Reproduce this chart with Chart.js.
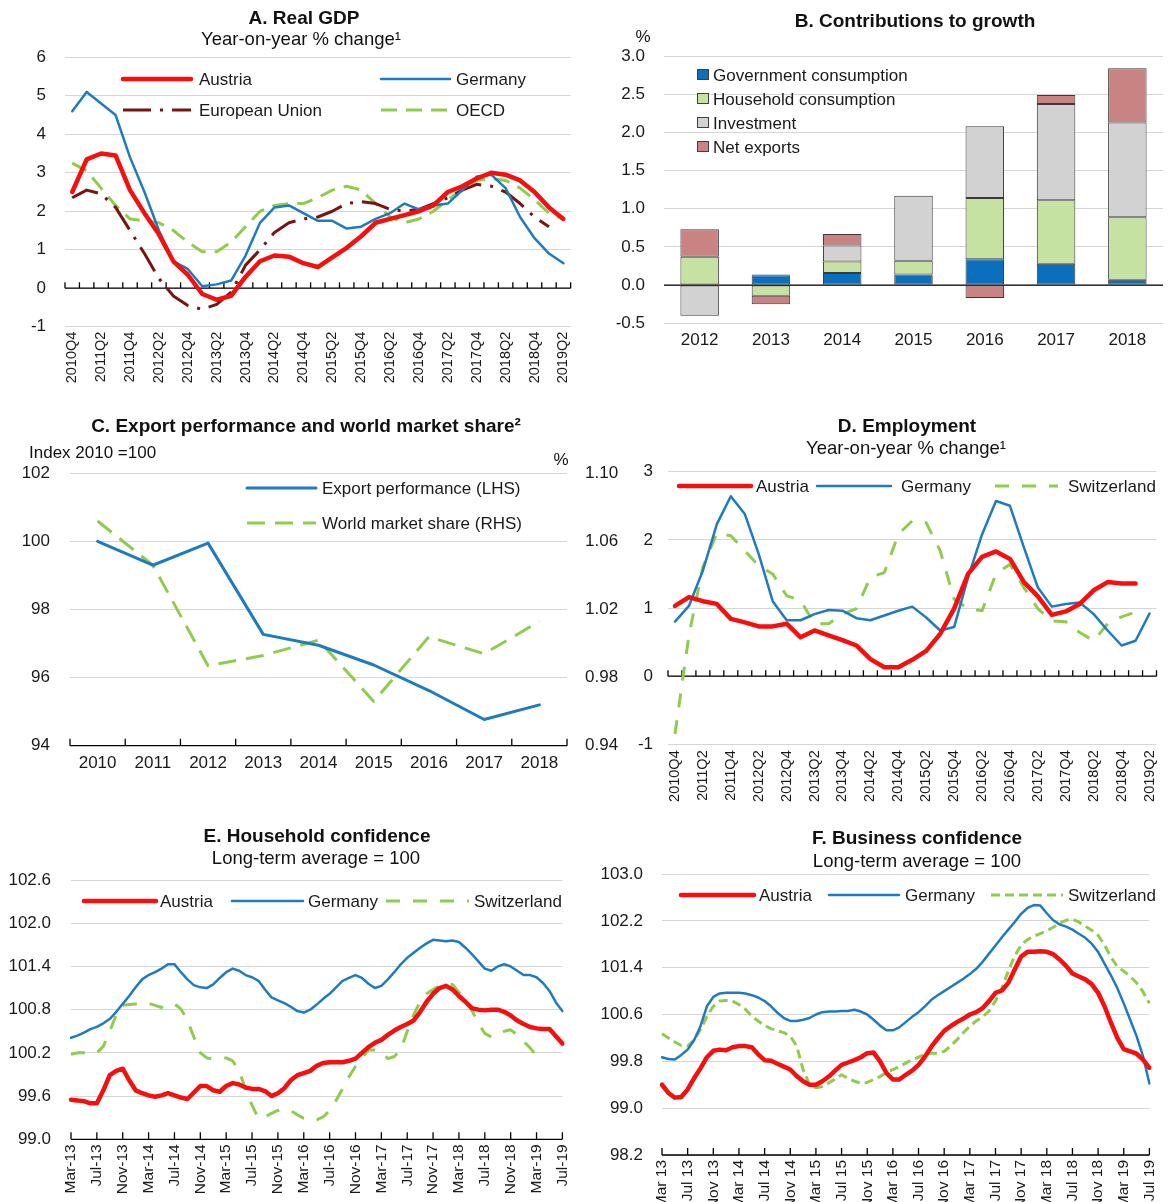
<!DOCTYPE html>
<html>
<head>
<meta charset="utf-8">
<script src="https://cdn.jsdelivr.net/npm/chart.js@4.4.1/dist/chart.umd.min.js"></script>
<style>
  body { margin: 0; background: #fff; }
  #page { position: relative; width: 1173px; height: 1202px; overflow: hidden; background: #fff; }
  canvas { position: absolute; }
</style>
</head>
<body>
<div id="page">
  <canvas id="chartA" width="586" height="405" style="left:0;top:0"></canvas>
  <canvas id="chartB" width="587" height="405" style="left:586px;top:0"></canvas>
  <canvas id="chartC" width="625" height="410" style="left:0;top:405px"></canvas>
  <canvas id="chartD" width="548" height="410" style="left:625px;top:405px"></canvas>
  <canvas id="chartE" width="586" height="387" style="left:0;top:815px"></canvas>
  <canvas id="chartF" width="587" height="387" style="left:586px;top:815px"></canvas>
</div>
<script>
const FONT = "'Liberation Sans', Arial, sans-serif";
Chart.defaults.font.family = FONT;
Chart.defaults.color = '#1a1a1a';
Chart.defaults.animation = false;

const RED = '#f50f0f';
const BLUE = '#1f7bbf';
const GREEN = '#8fcb4c';
const DARKRED = '#7a1414';
const GRID = '#d6d6d6';

// categories
const quarters = ['2010Q4',
  '2011Q1', '2011Q2', '2011Q3', '2011Q4', '2012Q1', '2012Q2', '2012Q3', '2012Q4',
  '2013Q1', '2013Q2', '2013Q3', '2013Q4', '2014Q1', '2014Q2', '2014Q3', '2014Q4',
  '2015Q1', '2015Q2', '2015Q3', '2015Q4', '2016Q1', '2016Q2', '2016Q3', '2016Q4',
  '2017Q1', '2017Q2', '2017Q3', '2017Q4', '2018Q1', '2018Q2', '2018Q3', '2018Q4',
  '2019Q1', '2019Q2'];
const growthYears = ['2012', '2013', '2014', '2015', '2016', '2017', '2018'];
const exportYears = ['2010', '2011', '2012', '2013', '2014', '2015', '2016', '2017', '2018'];
const months = [
  'Mar-13', 'Apr-13', 'May-13', 'Jun-13', 'Jul-13', 'Aug-13', 'Sep-13', 'Oct-13', 'Nov-13', 'Dec-13',
  'Jan-14', 'Feb-14', 'Mar-14', 'Apr-14', 'May-14', 'Jun-14', 'Jul-14', 'Aug-14', 'Sep-14', 'Oct-14', 'Nov-14', 'Dec-14',
  'Jan-15', 'Feb-15', 'Mar-15', 'Apr-15', 'May-15', 'Jun-15', 'Jul-15', 'Aug-15', 'Sep-15', 'Oct-15', 'Nov-15', 'Dec-15',
  'Jan-16', 'Feb-16', 'Mar-16', 'Apr-16', 'May-16', 'Jun-16', 'Jul-16', 'Aug-16', 'Sep-16', 'Oct-16', 'Nov-16', 'Dec-16',
  'Jan-17', 'Feb-17', 'Mar-17', 'Apr-17', 'May-17', 'Jun-17', 'Jul-17', 'Aug-17', 'Sep-17', 'Oct-17', 'Nov-17', 'Dec-17',
  'Jan-18', 'Feb-18', 'Mar-18', 'Apr-18', 'May-18', 'Jun-18', 'Jul-18', 'Aug-18', 'Sep-18', 'Oct-18', 'Nov-18', 'Dec-18',
  'Jan-19', 'Feb-19', 'Mar-19', 'Apr-19', 'May-19', 'Jun-19', 'Jul-19'];

// A. Real GDP, y-o-y % change
const gdpAustria = [2.5, 3.35, 3.5, 3.45, 2.55, 1.95, 1.4, 0.7, 0.35, -0.15, -0.3, -0.2, 0.3, 0.7, 0.85, 0.82, 0.65,
  0.55, 0.8, 1.05, 1.35, 1.7, 1.8, 1.9, 2.0, 2.15, 2.5, 2.65, 2.85, 3.0, 2.95, 2.8, 2.5, 2.1, 1.8];
const gdpGermany = [4.6, 5.1, 4.8, 4.5, 3.4, 2.5, 1.5, 0.7, 0.5, 0.05, 0.1, 0.2, 0.85, 1.7, 2.1, 2.15, 1.95,
  1.75, 1.75, 1.55, 1.6, 1.8, 1.95, 2.2, 2.05, 2.15, 2.2, 2.55, 2.9, 2.95, 2.6, 1.85, 1.3, 0.9, 0.65];
const gdpEU = [2.35, 2.55, 2.45, 2.1, 1.5, 0.9, 0.25, -0.2, -0.45, -0.55, -0.42, -0.1, 0.6, 1.0, 1.45, 1.7, 1.8,
  1.85, 2.0, 2.2, 2.25, 2.2, 2.05, 2.0, 2.05, 2.2, 2.35, 2.55, 2.7, 2.65, 2.5, 2.2, 1.85, 1.6, null];
const gdpOECD = [3.25, 3.05, 2.6, 2.15, 1.8, 1.75, 1.7, 1.5, 1.2, 0.95, 0.95, 1.2, 1.6, 2.0, 2.15, 2.2, 2.2,
  2.35, 2.55, 2.65, 2.55, 2.2, 1.85, 1.7, 1.8, 2.0, 2.3, 2.55, 2.8, 2.85, 2.8, 2.6, 2.3, 1.95, 1.8];

// B. Contributions to growth, %
const contribGov = [null, 0.13, 0.16, 0.14, 0.34, 0.28, 0.07];
const contribHousehold = [0.37, -0.14, 0.15, 0.18, 0.80, 0.83, 0.82];
const contribInvestment = [-0.40, 0.01, 0.21, 0.85, 0.94, 1.26, 1.24];
const contribNetExports = [0.36, -0.11, 0.15, null, -0.17, 0.12, 0.71];

// C. Export performance (index) and world market share (%)
const exportPerf = [100.0, 99.3, 99.95, 97.27, 96.95, 96.37, 95.62, 94.77, 95.2];
const worldShare = [1.072, 1.046, 0.987, 0.993, 1.002, 0.966, 1.004, 0.994, 1.013];

// D. Employment, y-o-y % change
const empAustria = [1.03, 1.16, 1.1, 1.06, 0.84, 0.79, 0.73, 0.73, 0.77, 0.57, 0.67, 0.6, 0.53, 0.45, 0.25, 0.13,
  0.13, 0.24, 0.37, 0.62, 0.99, 1.5, 1.75, 1.83, 1.72, 1.38, 1.17, 0.9, 0.95, 1.06, 1.26, 1.38, 1.36, 1.36, null];
const empGermany = [0.8, 1.03, 1.55, 2.23, 2.64, 2.38, 1.79, 1.1, 0.82, 0.82, 0.91, 0.97, 0.96, 0.85, 0.82, 0.89,
  0.96, 1.02, 0.86, 0.67, 0.72, 1.45, 2.08, 2.57, 2.5, 1.89, 1.3, 1.02, 1.06, 1.08, 0.91, 0.67, 0.45, 0.52, 0.92];
const empSwiss = [-0.85, 0.6, 1.6, 2.1, 2.06, 1.84, 1.62, 1.5, 1.18, 1.11, 0.77, 0.77, 0.91, 0.99, 1.45, 1.52,
  2.08, 2.28, 2.25, 1.84, 1.13, 0.99, 0.96, 1.5, 1.64, 1.3, 0.99, 0.81, 0.8, 0.64, 0.52, 0.77, 0.87, 0.94, null];

// E. Household confidence, long-term average = 100
const hhAustria = [99.55, 99.54, 99.53, 99.5, 99.5, 99.68, 99.89, 99.95, 99.98, 99.82,
  99.68, 99.64, 99.61, 99.59, 99.61, 99.64, 99.61, 99.58, 99.56, 99.65, 99.74, 99.74,
  99.68, 99.66, 99.74, 99.78, 99.76, 99.72, 99.7, 99.7, 99.67, 99.6, 99.64, 99.71,
  99.82, 99.89, 99.92, 99.95, 100.02, 100.06, 100.07, 100.07, 100.07, 100.09, 100.12, 100.2,
  100.28, 100.34, 100.38, 100.45, 100.51, 100.56, 100.6, 100.65, 100.77, 100.91, 101.02, 101.1,
  101.13, 101.08, 100.99, 100.91, 100.82, 100.8, 100.79, 100.8, 100.8, 100.77, 100.72, 100.65,
  100.6, 100.56, 100.54, 100.53, 100.53, 100.43, 100.33];
const hhGermany = [100.41, 100.44, 100.48, 100.53, 100.56, 100.61, 100.67, 100.77, 100.88, 100.99,
  101.11, 101.22, 101.28, 101.32, 101.37, 101.43, 101.43, 101.32, 101.22, 101.14, 101.11, 101.1,
  101.15, 101.24, 101.32, 101.37, 101.34, 101.28, 101.25, 101.2, 101.08, 100.97, 100.93, 100.89,
  100.84, 100.78, 100.76, 100.8, 100.87, 100.95, 101.02, 101.11, 101.2, 101.24, 101.28, 101.24,
  101.16, 101.1, 101.13, 101.22, 101.32, 101.43, 101.52, 101.59, 101.66, 101.72, 101.77, 101.76,
  101.75, 101.76, 101.74, 101.66, 101.57, 101.47, 101.37, 101.34, 101.4, 101.43, 101.4, 101.34,
  101.28, 101.28, 101.25, 101.17, 101.06, 100.9, 100.78];
const hhSwiss = [100.18, 100.2, 100.2, 100.2, 100.2, 100.29, 100.5, 100.73, 100.86, 100.87,
  100.88, 100.88, 100.89, 100.86, 100.83, 100.87, 100.88, 100.81, 100.65, 100.42, 100.2, 100.13,
  100.12, 100.13, 100.13, 100.09, 99.95, 99.7, 99.47, 99.29, 99.31, 99.36, 99.4, 99.42,
  99.4, 99.34, 99.29, 99.27, 99.27, 99.31, 99.4, 99.54, 99.7, 99.87, 100.01, 100.13,
  100.24, 100.24, 100.22, 100.12, 100.15, 100.24, 100.5, 100.73, 100.91, 101.02, 101.08, 101.13,
  101.16, 101.15, 101.04, 100.93, 100.79, 100.61, 100.47, 100.42, 100.45, 100.5, 100.52, 100.45,
  100.36, 100.27, 100.16, 100.13, null, null, null];

// F. Business confidence, long-term average = 100
const bizAustria = [99.4, 99.26, 99.18, 99.19, 99.32, 99.51, 99.68, 99.87, 99.98, 100.0,
  99.99, 100.04, 100.06, 100.06, 100.04, 99.92, 99.82, 99.81, 99.76, 99.71, 99.66, 99.55,
  99.46, 99.4, 99.4, 99.46, 99.54, 99.64, 99.74, 99.78, 99.82, 99.87, 99.94, 99.95,
  99.8, 99.6, 99.49, 99.49, 99.57, 99.64, 99.74, 99.88, 100.05, 100.19, 100.32, 100.4,
  100.47, 100.53, 100.6, 100.64, 100.71, 100.83, 100.97, 101.01, 101.14, 101.37, 101.59, 101.67,
  101.67, 101.68, 101.67, 101.63, 101.54, 101.43, 101.3, 101.25, 101.2, 101.12, 100.97, 100.74,
  100.46, 100.2, 100.01, 99.97, 99.93, 99.83, 99.69];
const bizGermany = [99.87, 99.84, 99.83, 99.91, 100.0, 100.16, 100.4, 100.74, 100.9, 100.96,
  100.97, 100.97, 100.97, 100.96, 100.93, 100.89, 100.83, 100.74, 100.63, 100.54, 100.49, 100.49,
  100.51, 100.54, 100.6, 100.64, 100.65, 100.65, 100.66, 100.66, 100.68, 100.65, 100.6, 100.51,
  100.41, 100.33, 100.33, 100.38, 100.47, 100.56, 100.64, 100.74, 100.85, 100.93, 101.0, 101.07,
  101.14, 101.21, 101.29, 101.38, 101.5, 101.64, 101.78, 101.92, 102.05, 102.18, 102.32, 102.42,
  102.47, 102.46, 102.33, 102.21, 102.14, 102.1, 102.05, 101.98, 101.91, 101.81, 101.67, 101.47,
  101.27, 101.05, 100.79, 100.51, 100.23, 99.89, 99.42];
const bizSwiss = [100.27, 100.2, 100.13, 100.07, 100.06, 100.16, 100.34, 100.57, 100.74, 100.83,
  100.84, 100.83, 100.77, 100.69, 100.57, 100.49, 100.41, 100.36, 100.32, 100.29, 100.23, 100.06,
  99.66, 99.4, 99.35, 99.37, 99.43, 99.5, 99.57, 99.51, 99.46, 99.43, 99.44, 99.49,
  99.54, 99.61, 99.66, 99.71, 99.77, 99.83, 99.87, 99.92, 99.94, 99.94, 99.97, 100.06,
  100.17, 100.29, 100.4, 100.49, 100.56, 100.66, 100.83, 101.05, 101.34, 101.6, 101.79, 101.88,
  101.94, 101.98, 102.03, 102.09, 102.16, 102.21, 102.23, 102.18, 102.11, 102.04, 101.95, 101.79,
  101.58, 101.42, 101.34, 101.25, 101.14, 100.99, 100.79];

// ---- small plugins: titles, in-plot legend, black axis line with tick marks ----
const panelText = {
  id: 'panelText',
  afterDraw(chart, args, opts) {
    const ctx = chart.ctx;
    ctx.save();
    ctx.fillStyle = '#111';
    ctx.textBaseline = 'middle';
    (opts.items || []).forEach(t => {
      ctx.font = t.font;
      ctx.textAlign = t.align || 'center';
      ctx.fillText(t.text, t.x, t.y);
    });
    ctx.restore();
  }
};

const insideLegend = {
  id: 'insideLegend',
  afterDraw(chart, args, opts) {
    if (!opts.items) return;
    const ctx = chart.ctx;
    ctx.save();
    ctx.font = opts.font;
    ctx.textBaseline = 'middle';
    ctx.textAlign = 'left';
    opts.items.forEach(it => {
      const ds = chart.data.datasets[it.ds];
      if (opts.boxes) {
        ctx.fillStyle = ds.backgroundColor;
        ctx.fillRect(it.x, it.y - 6, 12, 11);
        ctx.strokeStyle = '#404040';
        ctx.lineWidth = 1;
        ctx.strokeRect(it.x + 0.5, it.y - 5.5, 11, 10);
      } else {
        ctx.beginPath();
        ctx.strokeStyle = ds.borderColor;
        ctx.lineWidth = ds.borderWidth;
        ctx.lineCap = ds.borderDash ? 'butt' : 'round';
        ctx.setLineDash(ds.borderDash || []);
        ctx.moveTo(it.x, it.y);
        ctx.lineTo(it.x + it.len, it.y);
        ctx.stroke();
        ctx.setLineDash([]);
      }
      ctx.fillStyle = '#1a1a1a';
      ctx.fillText(ds.label, it.tx, it.y + 1);
    });
    ctx.restore();
  }
};

function drawAxisLine(chart, o) {
  if (o.value === undefined) return;
  const ctx = chart.ctx;
  const xs = chart.scales.x;
  const py = chart.scales.y.getPixelForValue(o.value);
  const { left, right } = chart.chartArea;
  const n = chart.data.labels.length;
  ctx.save();
  ctx.strokeStyle = '#000';
  ctx.lineWidth = 1.3;
  ctx.beginPath();
  ctx.moveTo(left, py);
  ctx.lineTo(right, py);
  if (o.ticks === 'between') {
    const half = (xs.getPixelForValue(1) - xs.getPixelForValue(0)) / 2;
    for (let i = 0; i <= n; i++) {
      const tx = i < n ? xs.getPixelForValue(i) - half : xs.getPixelForValue(n - 1) + half;
      ctx.moveTo(tx, py);
      ctx.lineTo(tx, py - o.len);
    }
  } else if (o.ticks === 'labels') {
    for (let i = 0; i < n; i += o.every) {
      const tx = xs.getPixelForValue(i);
      ctx.moveTo(tx, py);
      ctx.lineTo(tx, py - o.len);
    }
  }
  ctx.stroke();
  ctx.restore();
}

const axisLine = {
  id: 'axisLine',
  beforeDatasetsDraw(chart, args, o) { if (!o.onTop) drawAxisLine(chart, o); },
  afterDatasetsDraw(chart, args, o) { if (o.onTop) drawAxisLine(chart, o); }
};

const fixW = w => s => { s.width = w; };
const fixH = h => s => { s.height = h; };

const TITLE = 'bold 19px ' + FONT;
const SUB = '18.5px ' + FONT;
const LEG = '17px ' + FONT;

const lineElements = { point: { radius: 0 }, line: { tension: 0, borderJoinStyle: 'round', borderCapStyle: 'round' } };
const noLegend = { legend: { display: false }, tooltip: { enabled: false } };

function yAxis(min, max, step, digits, pad, width) {
  return {
    min: min, max: max,
    ticks: { stepSize: step, padding: pad, font: { size: 17 }, callback: v => Number(v).toFixed(digits) },
    grid: { color: GRID, drawTicks: false, lineWidth: 1 },
    border: { display: false },
    afterFit: fixW(width)
  };
}

// ---- A. Real GDP ----
new Chart(document.getElementById('chartA'), {
  type: 'line',
  data: {
    labels: quarters,
    datasets: [
      { label: 'Austria', data: gdpAustria, borderColor: RED, borderWidth: 4.5 },
      { label: 'Germany', data: gdpGermany, borderColor: BLUE, borderWidth: 2.5 },
      { label: 'European Union', data: gdpEU, borderColor: DARKRED, borderWidth: 3, borderDash: [28, 9, 3, 9], borderCapStyle: 'butt' },
      { label: 'OECD', data: gdpOECD, borderColor: GREEN, borderWidth: 3, borderDash: [16, 9], borderCapStyle: 'butt' }
    ]
  },
  options: {
    responsive: false,
    layout: { autoPadding: false, padding: { top: 57.3, right: 13, left: 0, bottom: 0 } },
    elements: lineElements,
    scales: {
      x: {
        offset: true,
        grid: { display: false, drawTicks: false },
        border: { display: false },
        ticks: { autoSkip: false, minRotation: 90, maxRotation: 90, padding: 5, font: { size: 14.5 },
          callback: (v, i) => (i % 2 === 0 ? quarters[i] : '') },
        afterFit: fixH(78.3)
      },
      y: yAxis(-1, 6, 1, 0, 19, 65)
    },
    plugins: Object.assign({}, noLegend, {
      panelText: { items: [
        { text: 'A. Real GDP', x: 304, y: 19, font: TITLE },
        { text: 'Year-on-year % change¹', x: 301, y: 40, font: SUB }
      ] },
      insideLegend: { font: LEG, items: [
        { ds: 0, x: 123, y: 79, len: 68, tx: 199 },
        { ds: 1, x: 381, y: 79, len: 69, tx: 456 },
        { ds: 2, x: 123, y: 110, len: 68, tx: 199 },
        { ds: 3, x: 381, y: 110, len: 69, tx: 456 }
      ] },
      axisLine: { value: 0, ticks: 'between', len: 6 }
    })
  },
  plugins: [panelText, insideLegend, axisLine]
});

// ---- B. Contributions to growth ----
const barStyle = { borderColor: '#3a3a3a', borderWidth: 1, borderSkipped: false, categoryPercentage: 1, barPercentage: 0.54 };
new Chart(document.getElementById('chartB'), {
  type: 'bar',
  data: {
    labels: growthYears,
    datasets: [
      Object.assign({ label: 'Government consumption', data: contribGov, backgroundColor: '#0a70bd' }, barStyle),
      Object.assign({ label: 'Household consumption', data: contribHousehold, backgroundColor: '#c6e2a2' }, barStyle),
      Object.assign({ label: 'Investment', data: contribInvestment, backgroundColor: '#d2d2d2' }, barStyle),
      Object.assign({ label: 'Net exports', data: contribNetExports, backgroundColor: '#c98383' }, barStyle)
    ]
  },
  options: {
    responsive: false,
    layout: { autoPadding: false, padding: { top: 56, right: 10, left: 0, bottom: 0 } },
    scales: {
      x: {
        stacked: true,
        grid: { display: false, drawTicks: false },
        border: { display: false },
        ticks: { maxRotation: 0, padding: 7, font: { size: 17 } },
        afterFit: fixH(81.7)
      },
      y: Object.assign(yAxis(-0.5, 3, 0.5, 1, 19, 78), { stacked: true })
    },
    plugins: Object.assign({}, noLegend, {
      panelText: { items: [
        { text: 'B. Contributions to growth', x: 329, y: 22, font: TITLE },
        { text: '%', x: 57, y: 37, font: '17px ' + FONT }
      ] },
      insideLegend: { font: LEG, boxes: true, items: [
        { ds: 0, x: 111, y: 75, tx: 127 },
        { ds: 1, x: 111, y: 99, tx: 127 },
        { ds: 2, x: 111, y: 123, tx: 127 },
        { ds: 3, x: 111, y: 147, tx: 127 }
      ] },
      axisLine: { value: 0, onTop: true }
    })
  },
  plugins: [panelText, insideLegend, axisLine]
});

// ---- C. Export performance and world market share ----
new Chart(document.getElementById('chartC'), {
  type: 'line',
  data: {
    labels: exportYears,
    datasets: [
      { label: 'Export performance (LHS)', data: exportPerf, borderColor: BLUE, borderWidth: 3, yAxisID: 'y' },
      { label: 'World market share (RHS)', data: worldShare, borderColor: GREEN, borderWidth: 3, borderDash: [18, 10], borderCapStyle: 'butt', yAxisID: 'y1' }
    ]
  },
  options: {
    responsive: false,
    layout: { autoPadding: false, padding: { top: 68.3, right: 0, left: 0, bottom: 0 } },
    elements: lineElements,
    scales: {
      x: {
        offset: true,
        grid: { display: false, drawTicks: false },
        border: { display: false },
        ticks: { maxRotation: 0, padding: 7, font: { size: 17 } },
        afterFit: fixH(69.3)
      },
      y: yAxis(94, 102, 2, 0, 20, 70),
      y1: {
        position: 'right',
        min: 0.94, max: 1.10,
        ticks: { stepSize: 0.04, padding: 18, font: { size: 17 }, callback: v => Number(v).toFixed(2) },
        grid: { display: false, drawTicks: false },
        border: { display: false },
        afterFit: fixW(58)
      }
    },
    plugins: Object.assign({}, noLegend, {
      panelText: { items: [
        { text: 'C. Export performance and world market share²', x: 306, y: 22, font: TITLE },
        { text: 'Index 2010 =100', x: 29, y: 48, font: '17px ' + FONT, align: 'left' },
        { text: '%', x: 561, y: 55, font: '17px ' + FONT }
      ] },
      insideLegend: { font: LEG, items: [
        { ds: 0, x: 247, y: 83, len: 69, tx: 322 },
        { ds: 1, x: 247, y: 118, len: 69, tx: 322 }
      ] },
      axisLine: { value: 94, ticks: 'between', len: 7 }
    })
  },
  plugins: [panelText, insideLegend, axisLine]
});

// ---- D. Employment ----
new Chart(document.getElementById('chartD'), {
  type: 'line',
  data: {
    labels: quarters,
    datasets: [
      { label: 'Austria', data: empAustria, borderColor: RED, borderWidth: 4.5 },
      { label: 'Germany', data: empGermany, borderColor: BLUE, borderWidth: 2.5 },
      { label: 'Switzerland', data: empSwiss, borderColor: GREEN, borderWidth: 3, borderDash: [14, 13], borderCapStyle: 'butt' }
    ]
  },
  options: {
    responsive: false,
    layout: { autoPadding: false, padding: { top: 66.7, right: 5, left: 0, bottom: 0 } },
    elements: lineElements,
    scales: {
      x: {
        offset: true,
        grid: { display: false, drawTicks: false },
        border: { display: false },
        ticks: { autoSkip: false, minRotation: 90, maxRotation: 90, padding: 6, font: { size: 14.5 },
          callback: (v, i) => (i % 2 === 0 ? quarters[i] : '') },
        afterFit: fixH(70.7)
      },
      y: yAxis(-1, 3, 1, 0, 15, 43)
    },
    plugins: Object.assign({}, noLegend, {
      panelText: { items: [
        { text: 'D. Employment', x: 282, y: 22, font: TITLE },
        { text: 'Year-on-year % change¹', x: 281, y: 44, font: SUB }
      ] },
      insideLegend: { font: LEG, items: [
        { ds: 0, x: 54, y: 81, len: 72, tx: 131 },
        { ds: 1, x: 192, y: 81, len: 74, tx: 276 },
        { ds: 2, x: 370, y: 81, len: 63, tx: 443 }
      ] },
      axisLine: { value: 0, ticks: 'between', len: 6 }
    })
  },
  plugins: [panelText, insideLegend, axisLine]
});

// ---- E. Household confidence ----
new Chart(document.getElementById('chartE'), {
  type: 'line',
  data: {
    labels: months,
    datasets: [
      { label: 'Austria', data: hhAustria, borderColor: RED, borderWidth: 4.5 },
      { label: 'Germany', data: hhGermany, borderColor: BLUE, borderWidth: 2.5 },
      { label: 'Switzerland', data: hhSwiss, borderColor: GREEN, borderWidth: 3, borderDash: [14, 13], borderCapStyle: 'butt' }
    ]
  },
  options: {
    responsive: false,
    layout: { autoPadding: false, padding: { top: 65, right: 20, left: 0, bottom: 0 } },
    elements: lineElements,
    scales: {
      x: {
        offset: false,
        grid: { display: false, drawTicks: false },
        border: { display: false },
        ticks: { autoSkip: false, minRotation: 90, maxRotation: 90, padding: 5, font: { size: 15.5 },
          callback: (v, i) => (i % 4 === 0 ? months[i] : '') },
        afterFit: fixH(62.7)
      },
      y: yAxis(99.0, 102.6, 0.6, 1, 20, 71)
    },
    plugins: Object.assign({}, noLegend, {
      panelText: { items: [
        { text: 'E. Household confidence', x: 317, y: 22, font: TITLE },
        { text: 'Long-term average = 100', x: 316, y: 44, font: SUB }
      ] },
      insideLegend: { font: LEG, items: [
        { ds: 0, x: 84, y: 86, len: 72, tx: 160 },
        { ds: 1, x: 232, y: 86, len: 71, tx: 308 },
        { ds: 2, x: 386, y: 86, len: 83, tx: 474 }
      ] },
      axisLine: { value: 99.0, ticks: 'labels', every: 4, len: 7 }
    })
  },
  plugins: [panelText, insideLegend, axisLine]
});

// ---- F. Business confidence ----
new Chart(document.getElementById('chartF'), {
  type: 'line',
  data: {
    labels: months,
    datasets: [
      { label: 'Austria', data: bizAustria, borderColor: RED, borderWidth: 4.5 },
      { label: 'Germany', data: bizGermany, borderColor: BLUE, borderWidth: 2.5 },
      { label: 'Switzerland', data: bizSwiss, borderColor: GREEN, borderWidth: 3, borderDash: [9, 5], borderCapStyle: 'butt' }
    ]
  },
  options: {
    responsive: false,
    layout: { autoPadding: false, padding: { top: 59, right: 6, left: 0, bottom: 0 } },
    elements: lineElements,
    scales: {
      x: {
        offset: false,
        grid: { display: false, drawTicks: false },
        border: { display: false },
        ticks: { autoSkip: false, minRotation: 90, maxRotation: 90, padding: 5, font: { size: 15.5 },
          callback: (v, i) => (i % 4 === 0 ? months[i].replace('-', ' ') : '') },
        afterFit: fixH(47)
      },
      y: yAxis(98.2, 103.0, 0.8, 1, 19, 76)
    },
    plugins: Object.assign({}, noLegend, {
      panelText: { items: [
        { text: 'F. Business confidence', x: 331, y: 24, font: TITLE },
        { text: 'Long-term average = 100', x: 331, y: 47, font: SUB }
      ] },
      insideLegend: { font: LEG, items: [
        { ds: 0, x: 95, y: 80, len: 73, tx: 173 },
        { ds: 1, x: 243, y: 80, len: 70, tx: 319 },
        { ds: 2, x: 405, y: 80, len: 72, tx: 482 }
      ] },
      axisLine: { value: 98.2, ticks: 'labels', every: 4, len: 7 }
    })
  },
  plugins: [panelText, insideLegend, axisLine]
});
</script>
</body>
</html>
